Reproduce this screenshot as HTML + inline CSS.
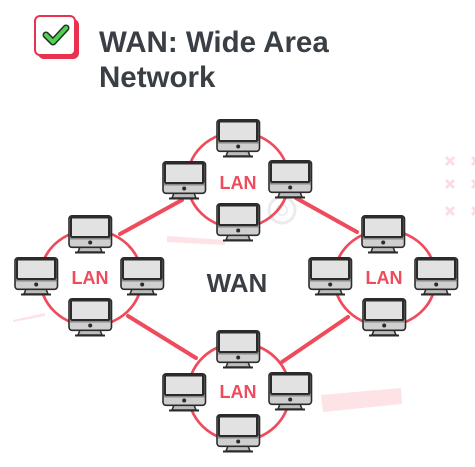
<!DOCTYPE html>
<html><head><meta charset="utf-8"><style>
html,body{margin:0;padding:0;background:#fff;}
body{width:475px;height:467px;overflow:hidden;position:relative;font-family:"Liberation Sans",sans-serif;}
</style></head><body>
<svg width="475" height="467" viewBox="0 0 475 467" xmlns="http://www.w3.org/2000/svg" style="position:absolute;left:0;top:0">
<defs>
<g id="m">
<path d="M-10 32 L10 32 L12 37 L-12 37 Z" fill="#bdbdbd" stroke="#2b2b2b" stroke-width="1.5"/>
<rect x="-15" y="36.5" width="30" height="2" fill="#2b2b2b"/>
<rect x="-21" y="0.8" width="42.5" height="31.5" rx="3" fill="#cfcfcf" stroke="#2b2b2b" stroke-width="1.6"/>
<rect x="-20" y="1.5" width="40.5" height="21.5" rx="2" fill="#2b2b2b"/>
<rect x="-18" y="3.5" width="36" height="17.5" fill="#e2e2e2"/>
<rect x="-20" y="23" width="40.5" height="1.5" fill="#8a8a8a"/>
<circle cx="0.2" cy="27.5" r="2" fill="#2b2b2b"/>
</g>
</defs>
<polygon points="167,236 225,240 225,245 167,242" fill="#fde3e6"/>
<polygon points="13,320 45,313 45,316 13,322" fill="#fde3e6"/>
<polygon points="321,395 401,388 402,404 323,412" fill="#fde3e6"/>
<circle cx="282" cy="210" r="13" fill="none" stroke="#ebebeb" stroke-width="3"/>
<circle cx="282" cy="210" r="5" fill="none" stroke="#eee" stroke-width="2"/>
<g stroke="#fbdde2" stroke-width="3">
<path d="M446 157 l8 8 M454 157 l-8 8 M446 180 l8 8 M454 180 l-8 8 M446 207 l8 8 M454 207 l-8 8"/>
<path d="M472 157 l8 8 M480 157 l-8 8 M472 180 l8 8 M480 180 l-8 8 M472 207 l8 8 M480 207 l-8 8"/>
</g>
<g stroke="#ef4b5c" stroke-width="4" stroke-linecap="round">
<line x1="120" y1="234" x2="182" y2="200"/>
<line x1="296" y1="198" x2="357" y2="232"/>
<line x1="128" y1="316" x2="196" y2="358"/>
<line x1="282" y1="362" x2="348" y2="317"/>
</g>
<g fill="none" stroke="#ef4b5c" stroke-width="2.7">
<ellipse cx="238" cy="180" rx="51" ry="48"/>
<ellipse cx="91" cy="278" rx="51" ry="48"/>
<ellipse cx="385" cy="278" rx="51" ry="48"/>
<ellipse cx="239" cy="392" rx="51" ry="49"/>
</g>
<use href="#m" x="238" y="119"/><use href="#m" x="184" y="161"/><use href="#m" x="290" y="160"/><use href="#m" x="238" y="203"/>
<use href="#m" x="90" y="215"/><use href="#m" x="36" y="257"/><use href="#m" x="142" y="257"/><use href="#m" x="90" y="298"/>
<use href="#m" x="383" y="215"/><use href="#m" x="330" y="257"/><use href="#m" x="436" y="257"/><use href="#m" x="384" y="298"/>
<use href="#m" x="238" y="330"/><use href="#m" x="184" y="373"/><use href="#m" x="290" y="372"/><use href="#m" x="238" y="414"/>
<g font-family="Liberation Sans, sans-serif" font-weight="bold" fill="#ef4b5c" font-size="18" text-anchor="middle">
<text x="238" y="189">LAN</text>
<text x="90" y="284">LAN</text>
<text x="384" y="284">LAN</text>
<text x="238" y="398">LAN</text>
</g>
<text x="237" y="292" font-family="Liberation Sans, sans-serif" font-weight="bold" font-size="26" fill="#3a3f45" text-anchor="middle">WAN</text>
<rect x="38" y="19" width="41" height="40" rx="6" fill="#e8324f"/>
<rect x="35" y="16" width="40" height="39" rx="5" fill="#fff" stroke="#e8324f" stroke-width="2"/>
<path d="M46 35 L53 42 L66 28" fill="none" stroke="#2b2b2b" stroke-width="7" stroke-linecap="round" stroke-linejoin="round"/>
<path d="M46 35 L53 42 L66 28" fill="none" stroke="#4cd44a" stroke-width="4" stroke-linecap="round" stroke-linejoin="round"/>
<g font-family="Liberation Sans, sans-serif" font-weight="bold" font-size="29.5" fill="#3a3f45">
<text x="99" y="52">WAN: Wide Area</text>
<text x="99" y="87">Network</text>
</g>
</svg>
</body></html>
